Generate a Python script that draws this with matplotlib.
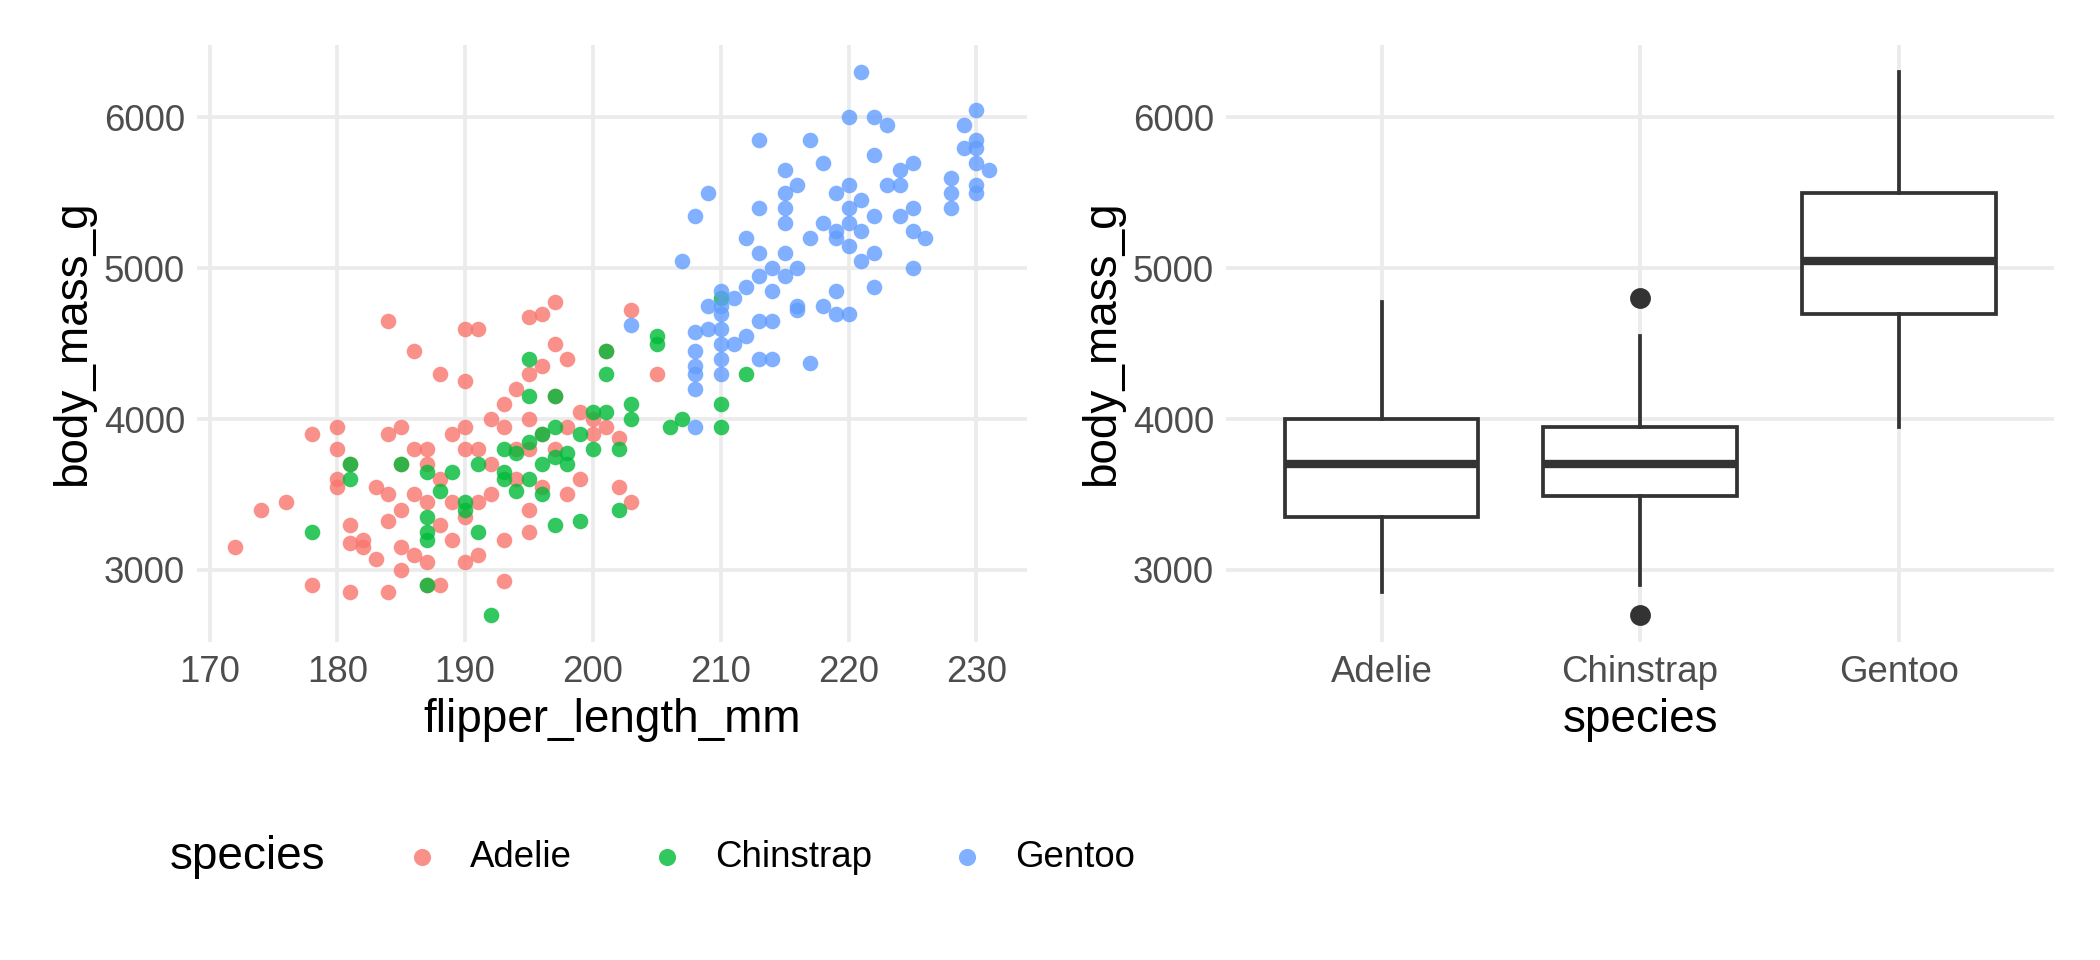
import matplotlib
matplotlib.use("Agg")
import matplotlib.pyplot as plt

adelie = [(172,3150),(174,3400),(176,3450),(178,2900),(178,3900),(180,3600),(180,3550),(180,3950),(180,3800),(181,2850),(181,3300),(181,3175),(181,3700),(182,3200),(182,3150),(183,3550),(183,3075),(184,3900),(184,4650),(184,3500),(184,3325),(184,2850),(185,3950),(185,3150),(185,3700),(185,3000),(185,3400),(186,3800),(186,4450),(186,3500),(186,3100),(187,3800),(187,3450),(187,3050),(187,2900),(187,3700),(188,4300),(188,3600),(188,3300),(188,2900),(189,3900),(189,3200),(189,3450),(190,4600),(190,4250),(190,3950),(190,3800),(190,3350),(190,3050),(191,4600),(191,3800),(191,3450),(191,3100),(192,4000),(192,3700),(192,3500),(193,4100),(193,3950),(193,3200),(193,2925),(194,4200),(194,3800),(194,3600),(195,4675),(195,4300),(195,4000),(195,3800),(195,3400),(195,3250),(196,4700),(196,4350),(196,3900),(196,3550),(197,4775),(197,4500),(197,4150),(197,3800),(198,4400),(198,3500),(198,3950),(199,4050),(199,3600),(200,4000),(200,3900),(201,3950),(201,4450),(202,3875),(202,3550),(203,4725),(205,4300),(203,3450)]
chinstrap = [(178,3250),(181,3700),(181,3600),(185,3700),(187,3350),(187,3250),(187,3200),(187,2900),(187,3650),(188,3525),(189,3650),(190,3400),(190,3450),(191,3700),(191,3250),(192,2700),(193,3800),(193,3650),(193,3600),(194,3775),(194,3525),(195,4400),(195,4150),(195,3850),(195,3600),(196,3900),(196,3700),(196,3500),(197,4150),(197,3950),(197,3750),(197,3300),(198,3700),(198,3775),(199,3900),(199,3325),(200,4050),(200,3800),(201,4300),(201,4450),(201,4050),(202,3400),(202,3800),(203,4100),(203,4000),(205,4550),(205,4500),(206,3950),(207,4000),(210,4800),(210,4100),(210,3950),(212,4300)]
gentoo = [(203,4625),(207,5050),(208,3950),(208,5350),(209,5500),(208,4300),(208,4350),(208,4450),(208,4575),(208,4200),(209,4600),(209,4750),(210,4300),(210,4400),(210,4500),(210,4600),(210,4700),(210,4850),(210,4750),(211,4800),(211,4500),(212,5200),(212,4875),(212,4550),(213,5850),(213,5400),(213,5100),(213,4950),(213,4650),(213,4400),(214,4850),(214,4650),(214,5000),(214,4400),(215,5650),(215,5500),(215,5300),(215,5100),(215,5400),(215,4950),(216,5550),(216,5000),(216,4750),(216,4725),(217,5850),(217,5200),(217,4375),(218,5700),(218,5300),(218,4750),(219,5500),(219,5250),(219,5200),(219,4850),(219,4700),(220,6000),(220,5550),(220,5400),(220,5300),(220,5150),(220,4700),(221,6300),(221,5450),(221,5050),(221,5250),(222,6000),(222,5750),(222,5350),(222,5100),(222,4875),(223,5950),(223,5550),(224,5650),(224,5550),(224,5350),(225,5700),(225,5400),(225,5250),(225,5000),(226,5200),(228,5600),(228,5500),(228,5400),(229,5950),(229,5800),(230,6050),(230,5850),(230,5800),(230,5700),(230,5550),(230,5500),(231,5650)]

species = ["Adelie", "Chinstrap", "Gentoo"]
colors = ["#F8766D", "#00BA38", "#619CFF"]
q1 = [3350, 3488, 4700]
med = [3700, 3700, 5050]
q3 = [4000, 3950, 5500]
wlo = [2850, 2900, 3950]
whi = [4775, 4550, 6300]
outliers = [[], [2700, 4800], []]

plt.rcParams['font.family'] = ['Liberation Sans', 'DejaVu Sans']
fig = plt.figure(figsize=(7, 3.2), dpi=300)
ax1 = fig.add_axes([0.094, 0.331, 0.395, 0.622])
ax2 = fig.add_axes([0.584, 0.331, 0.394, 0.622])

def style(ax):
    for s in ax.spines.values():
        s.set_visible(False)
    ax.grid(True, color="#EBEBEB", lw=0.9)
    ax.set_axisbelow(True)
    ax.tick_params(length=0, labelsize=8.8, colors="#4D4D4D", pad=3)
    ax.set_ylim(2520, 6480)
    ax.set_yticks([3000, 4000, 5000, 6000])

for data, c, name in zip([adelie, chinstrap, gentoo], colors, species):
    xs = [p[0] for p in data]; ys = [p[1] for p in data]
    ax1.scatter(xs, ys, s=14, color=c, alpha=0.8, lw=0, label=name)
style(ax1)
ax1.set_xlim(169.05, 233.95)
ax1.set_xticks(range(170, 231, 10))
ax1.set_xlabel("flipper_length_mm", fontsize=11, labelpad=2)
ax1.set_ylabel("body_mass_g", fontsize=11, labelpad=2)

stats = [dict(med=m, q1=a, q3=b, whislo=l, whishi=h, fliers=f, label=n)
         for m, a, b, l, h, f, n in zip(med, q1, q3, wlo, whi, outliers, species)]
ax2.bxp(stats, positions=[1, 2, 3], widths=0.75, showcaps=False, patch_artist=True,
        boxprops=dict(facecolor="white", edgecolor="#333333", lw=0.9),
        whiskerprops=dict(color="#333333", lw=0.9),
        medianprops=dict(color="#333333", lw=2),
        flierprops=dict(marker="o", markerfacecolor="#333333", markeredgecolor="#333333", markersize=4))
style(ax2)
ax2.set_xlim(0.4, 3.6)
ax2.set_xlabel("species", fontsize=11, labelpad=2)
ax2.set_ylabel("body_mass_g", fontsize=11, labelpad=2)

fig.text(0.081, 0.107, "species", fontsize=11, va="center")
fig.legend(*ax1.get_legend_handles_labels(), loc="center left", bbox_to_anchor=(0.168, 0.107),
           ncol=3, frameon=False, fontsize=8.8, handletextpad=0.3, columnspacing=1.6, markerscale=1.1)
fig.savefig("out.png", dpi=300, facecolor="white")
